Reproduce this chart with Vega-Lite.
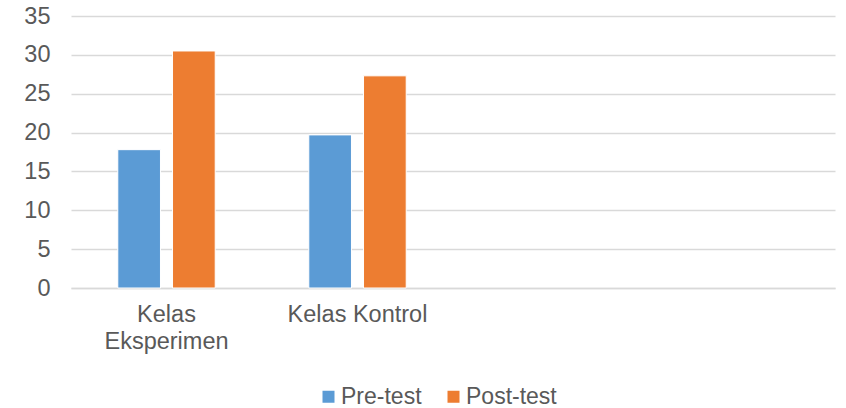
{
  "$schema": "https://vega.github.io/schema/vega-lite/v6.json",
  "width": 764,
  "height": 272,
  "autosize": {"type": "none"},
  "padding": {"left": 71, "top": 16, "right": 11, "bottom": 120},
  "background": "white",
  "config": {
    "view": {"stroke": null},
    "font": "Liberation Sans",
    "axis": {"labelFont": "Liberation Sans", "labelColor": "#595959", "labelFontSize": 23.5}
  },
  "data": {
    "values": [
      {"kelas": "Kelas Eksperimen", "tes": "Pre-test", "nilai": 17.8},
      {"kelas": "Kelas Eksperimen", "tes": "Post-test", "nilai": 30.5},
      {"kelas": "Kelas Kontrol", "tes": "Pre-test", "nilai": 19.7},
      {"kelas": "Kelas Kontrol", "tes": "Post-test", "nilai": 27.3}
    ]
  },
  "mark": {"type": "bar", "stroke": "white", "strokeWidth": 1},
  "encoding": {
    "x": {
      "field": "kelas",
      "type": "nominal",
      "scale": {"domain": ["Kelas Eksperimen", "Kelas Kontrol", " ", "  "], "paddingInner": 0.49, "paddingOuter": 0.245},
      "axis": {
        "title": null,
        "labelAngle": 0,
        "ticks": false,
        "domain": true,
        "domainColor": "#d9d9d9",
        "domainWidth": 1.5,
        "labelPadding": 14,
        "labelLineHeight": 27,
        "labelBaseline": "top",
        "labelExpr": "datum.label == 'Kelas Eksperimen' ? ['Kelas', 'Eksperimen'] : datum.label"
      }
    },
    "xOffset": {
      "field": "tes",
      "type": "nominal",
      "sort": ["Pre-test", "Post-test"],
      "scale": {"paddingInner": 0.22, "paddingOuter": 0}
    },
    "y": {
      "field": "nilai",
      "type": "quantitative",
      "scale": {"domain": [0, 35], "nice": false},
      "axis": {
        "title": null,
        "values": [0, 5, 10, 15, 20, 25, 30, 35],
        "ticks": false,
        "domain": false,
        "gridColor": "#d9d9d9",
        "gridWidth": 1.5,
        "labelPadding": 21
      }
    },
    "color": {
      "field": "tes",
      "type": "nominal",
      "sort": ["Pre-test", "Post-test"],
      "scale": {"domain": ["Pre-test", "Post-test"], "range": ["#5B9BD5", "#ED7D31"]},
      "legend": {
        "title": null,
        "orient": "none",
        "direction": "horizontal",
        "legendX": 246,
        "legendY": 369,
        "symbolType": "square",
        "symbolSize": 144,
        "symbolStrokeWidth": 0,
        "labelFontSize": 23,
        "labelColor": "#595959",
        "labelFont": "Liberation Sans",
        "labelOffset": 1,
        "columnPadding": 20
      }
    }
  }
}
